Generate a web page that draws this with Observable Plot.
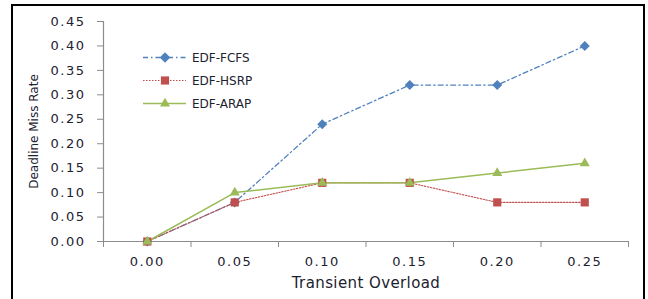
<!DOCTYPE html>
<html>
<head>
<meta charset="utf-8">
<script src="https://cdn.jsdelivr.net/npm/d3@7"></script>
<script src="https://cdn.jsdelivr.net/npm/@observablehq/plot@0.6"></script>
<style>
  html, body { margin: 0; padding: 0; background: #fff; }
  #wrap { position: relative; width: 648px; height: 299px; overflow: hidden; }
  #border { position: absolute; left: 11px; top: 4px; width: 634px; height: 300px; border: 2.5px solid #000; box-sizing: border-box; pointer-events: none; }
</style>
</head>
<body>
<div id="wrap"><div id="border"></div></div>
<script>
const categories = [0.00, 0.05, 0.10, 0.15, 0.20, 0.25];
const fcfs = [0.00, 0.08, 0.24, 0.32, 0.32, 0.40];
const hsrp = [0.00, 0.08, 0.12, 0.12, 0.08, 0.08];
const arap = [0.00, 0.10, 0.12, 0.12, 0.14, 0.16];
const seriesNames = ["EDF-FCFS", "EDF-HSRP", "EDF-ARAP"];
const yTicks = [0, 0.05, 0.10, 0.15, 0.20, 0.25, 0.30, 0.35, 0.40, 0.45];

const colors = {"EDF-FCFS": "#4F81BD", "EDF-HSRP": "#C0504D", "EDF-ARAP": "#9BBB59"};
const rows = (name, vals) => categories.map((c, i) => ({x: c, y: vals[i], s: name}));
const dFCFS = rows("EDF-FCFS", fcfs);
const dHSRP = rows("EDF-HSRP", hsrp);
const dARAP = rows("EDF-ARAP", arap);

const step = categories[1] - categories[0];
const boundaries = d3.range(categories.length + 1).map(i => categories[0] - step / 2 + i * step);

const font = "'DejaVu Sans', Verdana, sans-serif";
const txt = "#1c2230";

const chart = Plot.plot({
  width: 648,
  height: 299,
  marginLeft: 103,
  marginRight: 20,
  marginTop: 21,
  marginBottom: 58,
  style: {fontFamily: font, fontSize: "13px", color: txt, background: "transparent"},
  x: {domain: [boundaries[0], boundaries[boundaries.length - 1]]},
  y: {domain: [0, 0.45]},
  marks: [
    Plot.ruleY([0], {stroke: "#8c8c8c", strokeWidth: 1.2}),
    Plot.ruleX([boundaries[0]], {stroke: "#8c8c8c", strokeWidth: 1.2}),
    Plot.axisY({ticks: yTicks, tickFormat: d => d.toFixed(2), tickSize: 6, tickPadding: 12, stroke: "#8c8c8c", fill: txt, fontSize: 13, label: "Deadline Miss Rate", labelAnchor: "center", labelArrow: "none", labelOffset: 74}),
    Plot.axisX({ticks: boundaries, tickFormat: () => "", tickSize: 6, stroke: "#8c8c8c", label: null}),
    Plot.axisX({ticks: categories, tickFormat: d => d.toFixed(2), tickSize: 0, tickPadding: 15, fill: txt, fontSize: 13, label: "Transient Overload", labelAnchor: "center", labelArrow: "none", labelOffset: 46}),
    Plot.line(dFCFS, {x: "x", y: "y", stroke: colors["EDF-FCFS"], strokeWidth: 1.3, strokeDasharray: "5,3,1.5,3"}),
    Plot.line(dHSRP, {x: "x", y: "y", stroke: colors["EDF-HSRP"], strokeWidth: 1.1, strokeDasharray: "1.5,1.5"}),
    Plot.line(dARAP, {x: "x", y: "y", stroke: colors["EDF-ARAP"], strokeWidth: 1.5}),
    Plot.dot(dFCFS, {x: "x", y: "y", symbol: "diamond2", r: 4.5, fill: colors["EDF-FCFS"], stroke: null}),
    Plot.dot(dHSRP, {x: "x", y: "y", symbol: "square2", r: 5.2, fill: colors["EDF-HSRP"], stroke: null}),
    Plot.dot(dARAP, {x: "x", y: "y", symbol: "triangle2", r: 4.8, fill: colors["EDF-ARAP"], stroke: null})
  ]
});
document.getElementById("wrap").appendChild(chart);
chart.style.position = "absolute";
chart.style.left = "0";
chart.style.top = "0";

const svg = d3.select(chart);
svg.selectAll('[aria-label="y-axis tick label"] text, [aria-label="x-axis tick label"] text').attr("letter-spacing", "1.5px");
svg.selectAll('[aria-label="x-axis label"] text').attr("font-size", 15).attr("letter-spacing", "0.4px");
svg.selectAll('[aria-label="y-axis label"] text').attr("font-size", 12);

const leg = svg.append("g").attr("font-family", font).attr("font-size", 12).attr("fill", txt).attr("text-anchor", "start");
const styles = {
  "EDF-FCFS": {dash: "5,3,1.5,3", w: 1.3, sym: d3.symbolDiamond2, size: 70},
  "EDF-HSRP": {dash: "1.5,1.5", w: 1.1, sym: d3.symbolSquare2, size: 85},
  "EDF-ARAP": {dash: null, w: 1.5, sym: d3.symbolTriangle2, size: 72}
};
seriesNames.forEach((name, i) => {
  const y = 57.5 + i * 23;
  const st = styles[name];
  leg.append("line").attr("x1", 143).attr("x2", 186).attr("y1", y).attr("y2", y)
    .attr("stroke", colors[name]).attr("stroke-width", st.w).attr("stroke-dasharray", st.dash);
  leg.append("path").attr("d", d3.symbol(st.sym, st.size)()).attr("transform", `translate(165,${y})`).attr("fill", colors[name]);
  leg.append("text").attr("x", 192).attr("y", y).attr("dy", "0.35em").text(name);
});
</script>
</body>
</html>
